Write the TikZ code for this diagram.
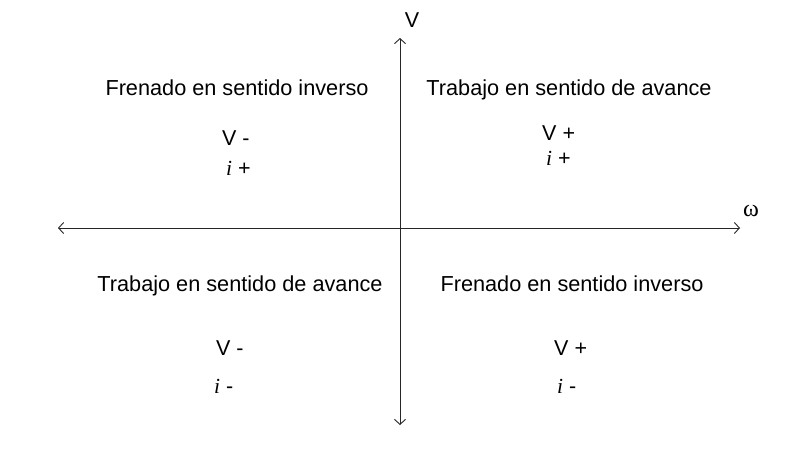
\documentclass[tikz,border=0pt]{standalone}
\usepackage{fontspec}
\setmainfont{Liberation Sans}
\newfontfamily\serifi{Liberation Serif}
\usetikzlibrary{arrows.meta}
\begin{document}
\begin{tikzpicture}[x=1pt,y=-1pt,
  axis/.style={draw=black!85, line width=0.9pt, {Straight Barb[length=5pt,width=11pt]}-{Straight Barb[length=5pt,width=11pt]}},
  title/.style={anchor=base, inner sep=0pt, font=\fontsize{21.7}{25}\selectfont},
  sign/.style={anchor=base west, inner sep=0pt, font=\fontsize{21.5}{25}\selectfont},
  axlabel/.style={inner sep=0pt, font=\fontsize{21.5}{25}\selectfont}]
\useasboundingbox (0,0) rectangle (798,458);
\fill[white] (0,0) rectangle (798,458);
% axes
\coordinate (xl) at (58,228);
\coordinate (xr) at (740,228);
\coordinate (yt) at (400,38);
\coordinate (yb) at (400,425);
\draw[axis] (xl) -- (xr);
\draw[axis] (yb) -- (yt);
\node[axlabel] (vlab) at (412,20) {V};
\node[axlabel, font=\fontsize{24}{26}\selectfont] (wlab) at (751,211) {\serifi ω};
% quadrant titles
\node[title] (tl) at (237,95) {Frenado en sentido inverso};
\node[title] (tr) at (569,95) {Trabajo en sentido de avance};
\node[title] (bl) at (240,291) {Trabajo en sentido de avance};
\node[title] (br) at (572,291) {Frenado en sentido inverso};
% signs
\node[sign] (tlv) at (222,145) {V -};
\node[sign] (tli) at (226,175) {{\serifi\itshape i} +};
\node[sign] (trv) at (542,140) {V +};
\node[sign] (tri) at (546,165) {{\serifi\itshape i} +};
\node[sign] (blv) at (216,355) {V -};
\node[sign] (bli) at (214,393) {{\serifi\itshape i} -};
\node[sign] (brv) at (554,355) {V +};
\node[sign] (bri) at (557,393) {{\serifi\itshape i} -};
\end{tikzpicture}
\end{document}
